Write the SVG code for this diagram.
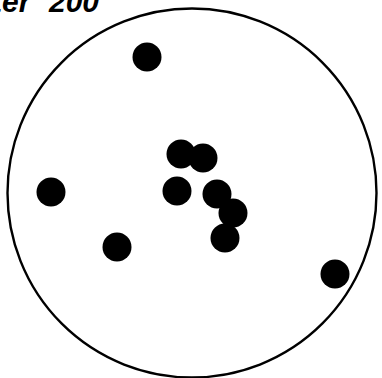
<svg xmlns="http://www.w3.org/2000/svg" width="382" height="378" viewBox="0 0 382 378">
<style>
.dot{fill:#000}
.lbl{font-family:"Liberation Sans",Arial,sans-serif;font-weight:bold;font-style:italic;font-size:30px;fill:#000}
</style>
<rect width="382" height="378" fill="#fff"/>
<g id="title"><text class="lbl" x="-8" y="12">ter</text><text class="lbl" x="49" y="12">200</text></g>
<g id="field"><circle cx="192" cy="193" r="184.5" fill="none" stroke="#000" stroke-width="2.4"/></g>
<g id="dots">
<circle class="dot" cx="147" cy="57" r="14.5"/>
<circle class="dot" cx="51" cy="192" r="14.5"/>
<circle class="dot" cx="117" cy="247" r="14.5"/>
<circle class="dot" cx="181" cy="154" r="14.5"/>
<circle class="dot" cx="203" cy="158" r="14.5"/>
<circle class="dot" cx="177" cy="191" r="14.5"/>
<circle class="dot" cx="217" cy="194" r="14.5"/>
<circle class="dot" cx="233" cy="213" r="14.5"/>
<circle class="dot" cx="225" cy="238" r="14.5"/>
<circle class="dot" cx="335" cy="274" r="14.5"/>
</g>
</svg>
